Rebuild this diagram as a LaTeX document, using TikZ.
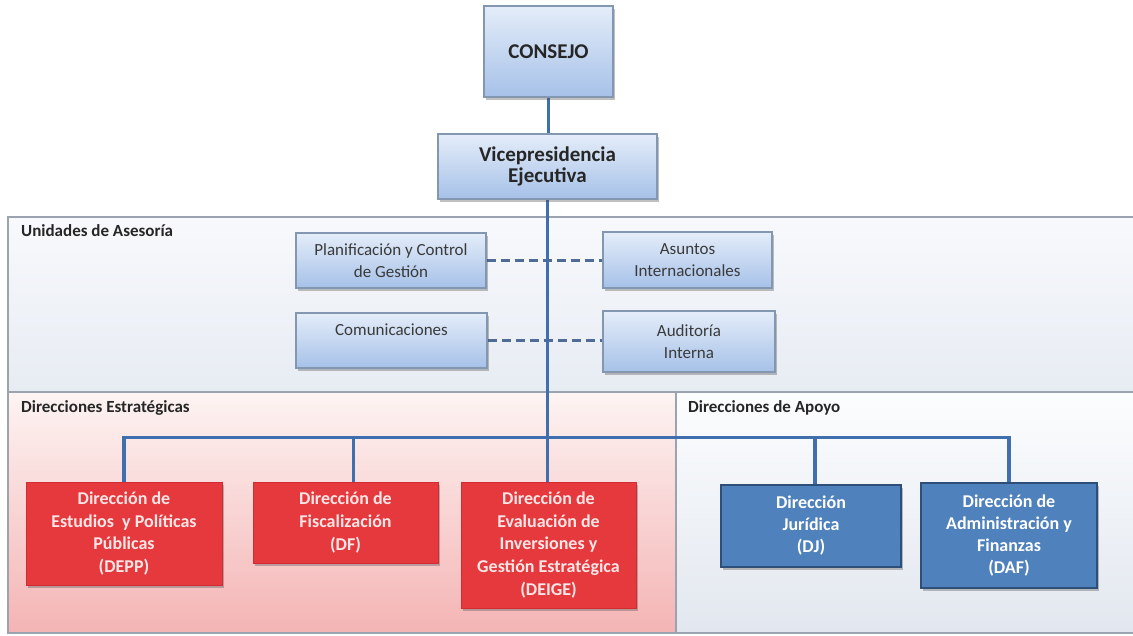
\documentclass[tikz,border=0pt]{standalone}
\usepackage{fontspec}
\setmainfont{Carlito}
\usetikzlibrary{shadows,calc}
\definecolor{connblue}{HTML}{3F6FAE}
\definecolor{dashblue}{HTML}{4E6C96}
\definecolor{lbtop}{HTML}{E4EDF9}
\definecolor{lbbot}{HTML}{A6C1E8}
\definecolor{lbborder}{HTML}{8497B0}
\definecolor{redbox}{HTML}{E6393E}
\definecolor{redborder}{HTML}{D02C31}
\definecolor{redtext}{HTML}{FCE6E6}
\definecolor{bluebox}{HTML}{4F81BD}
\definecolor{blueborder}{HTML}{2E4F78}
\definecolor{panelborder}{HTML}{9AA3AE}
\definecolor{titletext}{HTML}{262626}
\definecolor{advtext}{HTML}{3A3A3A}
\definecolor{uatop}{HTML}{F8F9FC}
\definecolor{uabot}{HTML}{E7ECF3}
\definecolor{detop}{HTML}{FDF4F3}
\definecolor{debot}{HTML}{F4B4B4}
\definecolor{datop}{HTML}{FCFDFE}
\definecolor{dabot}{HTML}{E2E7EF}
\pgfdeclarelayer{panels}
\pgfdeclarelayer{lines}
\pgfsetlayers{panels,lines,main}
\tikzset{
  conn/.style={line width=3.6pt, draw=connblue},
  dashconn/.style={line width=3.5pt, draw=dashblue, dash pattern=on 9pt off 5pt},
  boxshadow/.style={drop shadow={shadow xshift=2pt, shadow yshift=-2.5pt, opacity=0.35, fill=black!70}},
  lbox/.style={rectangle, draw=lbborder, line width=1.2pt, top color=lbtop, bottom color=lbbot,
    align=center, inner sep=2pt, boxshadow},
  topbox/.style={lbox, text=titletext, font=\bfseries\fontsize{21}{21}\selectfont},
  advbox/.style={lbox, text=advtext, font=\fontsize{17}{21.5}\selectfont},
  rbox/.style={rectangle, fill=redbox, draw=redborder, line width=0.8pt, text=redtext,
    font=\bfseries\fontsize{18}{22.6}\selectfont, align=center, inner sep=2pt, boxshadow},
  bbox/.style={rectangle, fill=bluebox, draw=blueborder, line width=1.6pt, text=white,
    font=\bfseries\fontsize{18}{22}\selectfont, align=center, inner sep=2pt, boxshadow},
  panel/.style={draw=panelborder, line width=1.5pt},
  sectitle/.style={font=\bfseries\fontsize{17}{18}\selectfont, text=titletext, anchor=west, inner sep=0pt}
}
\begin{document}
\begin{tikzpicture}[x=1pt,y=-1pt]
\useasboundingbox (0,0) rectangle (1133,635);
% panels
\begin{pgfonlayer}{panels}
  \fill[white] (0,0) rectangle (1133,635);
  \shade[top color=uatop, bottom color=uabot] (8,217) rectangle (1140,392);
  \shade[top color=detop, bottom color=debot] (8,392) rectangle (676,633);
  \shade[top color=datop, bottom color=dabot] (676,392) rectangle (1140,633);
  \draw[panel] (8,217) rectangle (1140,633);
  \draw[panel] (8,392) -- (1140,392);
  \draw[panel] (676,392) -- (676,633);
\end{pgfonlayer}
\node[sectitle] (tUA) at (21,231) {Unidades de Asesoría};
\node[sectitle] (tDE) at (21,408) {Direcciones Estratégicas};
\node[sectitle] (tDA) at (688,408) {Direcciones de Apoyo};
% top boxes
\node[topbox, minimum width=129pt, minimum height=91pt] (consejo) at (548.5,51.5) {CONSEJO};
\node[topbox, minimum width=219pt, minimum height=65pt] (vice) at (547.5,166.5) {Vicepresidencia\\Ejecutiva};
% advisory
\node[advbox, minimum width=190pt, minimum height=55pt] (plan) at (391,260.5) {Planificación y Control\\de Gestión};
\node[advbox, minimum width=191pt, minimum height=55pt] (comu) at (391.5,340.5) {Comunicaciones\\\mbox{}};
\node[advbox, minimum width=169pt, minimum height=56pt] (asun) at (687.5,260) {Asuntos\\Internacionales};
\node[advbox, minimum width=172pt, minimum height=61pt] (audi) at (689,341.5) {Auditoría\\Interna};
% direcciones
\node[rbox, minimum width=196pt, minimum height=103pt] (depp) at (124,533.5) {Dirección de\\Estudios\ \ y Políticas\\Públicas\\(DEPP)};
\node[rbox, minimum width=185pt, minimum height=81pt] (df) at (345.5,522.5) {Dirección de\\Fiscalización\\(DF)};
\node[rbox, minimum width=175pt, minimum height=126pt] (deige) at (548.5,545) {Dirección de\\Evaluación de\\Inversiones y\\Gestión Estratégica\\(DEIGE)};
\node[bbox, minimum width=180pt, minimum height=82pt] (dj) at (811,526) {Dirección\\Jurídica\\(DJ)};
\node[bbox, minimum width=176pt, minimum height=105pt] (daf) at (1009,535.5) {Dirección de\\Administración y\\Finanzas\\(DAF)};
% connectors
\begin{pgfonlayer}{lines}
  \draw[dashconn] (plan.east) -- (plan.east -| asun.west);
  \draw[dashconn] (comu.east) -- (comu.east -| audi.west);
  \draw[conn] (consejo.south) -- (consejo.south |- vice.north);
  \draw[conn] (vice.south) -- (vice.south |- deige.north);
  \coordinate (busL) at ($(depp.north)+(0,-44)$);
  \draw[conn] (depp.north) -- (busL) -| (daf.north);
  \draw[conn] ([xshift=8pt]df.north) -- ([xshift=8pt]df.north |- busL);
  \draw[conn] ([xshift=4pt]dj.north) -- ([xshift=4pt]dj.north |- busL);
\end{pgfonlayer}
\end{tikzpicture}
\end{document}
